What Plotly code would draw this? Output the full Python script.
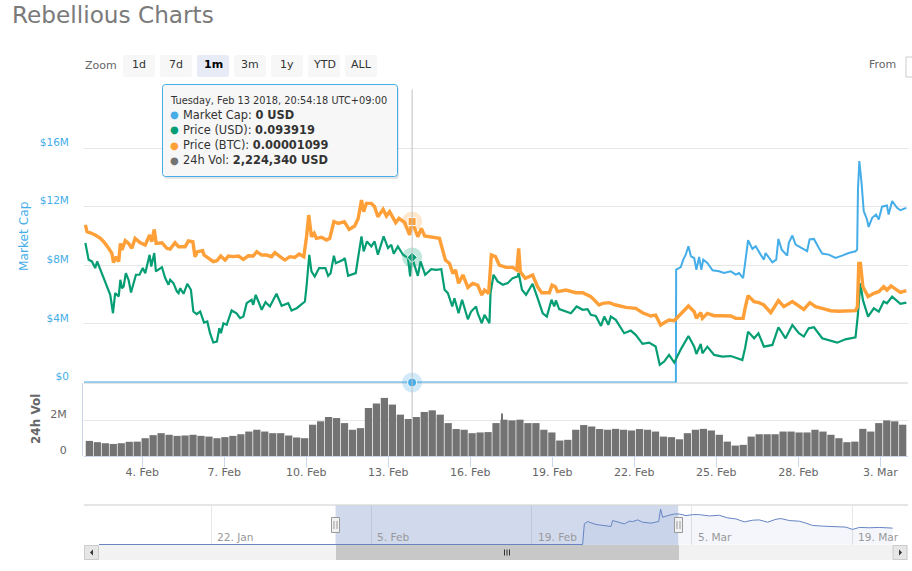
import numpy as np
import pandas as pd
import plotly.graph_objects as go

# days are counted from 31 Jan 2018, so 4.0 is midnight on 4 Feb and 29.0 is 1 Mar
BASE = pd.Timestamp("2018-01-31")

usd_days = [1.92, 2.04, 2.16, 2.28, 2.35, 2.47, 2.59, 2.71, 2.83, 2.93, 3.01, 3.14, 3.20, 3.26, 3.32, 3.40, 3.50, 3.59,
            3.68, 3.77, 3.90, 4.02, 4.11, 4.27, 4.33, 4.44, 4.50, 4.72, 4.84, 4.96, 5.02, 5.14, 5.27, 5.33, 5.39, 5.51,
            5.65, 5.78, 5.87, 5.99, 6.12, 6.26, 6.38, 6.48, 6.60, 6.73, 6.82, 6.88, 6.97, 7.09, 7.27, 7.45, 7.58, 7.70,
            7.82, 8.00, 8.06, 8.15, 8.25, 8.37, 8.51, 8.67, 8.91, 9.10, 9.34, 9.46, 9.65, 9.95, 10.01, 10.11, 10.19,
            10.31, 10.47, 10.70, 10.80, 10.89, 11.01, 11.08, 11.35, 11.41, 11.53, 11.65, 11.81, 11.90, 12.02, 12.10,
            12.22, 12.38, 12.50, 12.62, 12.83, 12.99, 13.11, 13.20, 13.35, 13.54, 13.72, 13.80, 13.87, 14.08, 14.18,
            14.35, 14.57, 14.75, 14.94, 15.06, 15.18, 15.34, 15.42, 15.57, 15.70, 15.91, 16.03, 16.21, 16.27, 16.42,
            16.52, 16.70, 16.74, 16.85, 17.00, 17.19, 17.37, 17.55, 17.73, 17.77, 17.89, 18.04, 18.28, 18.44, 18.65,
            18.80, 18.97, 19.07, 19.13, 19.25, 19.50, 19.68, 19.89, 20.11, 20.29, 20.41, 20.59, 20.78, 20.90, 21.05,
            21.14, 21.32, 21.63, 21.87, 22.05, 22.30, 22.54, 22.78, 22.93, 23.09, 23.27, 23.46, 23.70, 23.98, 24.19,
            24.27, 24.43, 24.49, 24.67, 24.92, 25.22, 25.53, 25.95, 26.05, 26.16, 26.38, 26.54, 26.74, 27.05, 27.27,
            27.53, 27.78, 28.02, 28.20, 28.38, 28.57, 28.87, 29.18, 29.42, 29.72, 30.09, 30.17, 30.27, 30.36, 30.55,
            30.76, 30.94, 31.12, 31.24, 31.43, 31.61, 31.73, 31.95]
# US cents
usd_cents = [10.47, 9.21, 9.09, 8.59, 9.09, 8.46, 7.84, 7.34, 6.58, 5.20, 6.71, 6.46, 7.71, 7.08, 7.21, 8.21, 7.71, 6.76,
             7.46, 8.09, 8.09, 8.59, 8.21, 9.59, 8.71, 9.72, 8.34, 8.66, 7.84, 7.34, 7.71, 7.46, 6.83, 6.71, 7.08, 6.66,
             7.41, 6.96, 5.33, 5.13, 5.33, 4.50, 4.58, 3.70, 3.00, 3.07, 4.08, 3.70, 4.45, 4.33, 5.41, 5.20, 4.83, 4.95,
             5.96, 6.21, 5.83, 6.58, 6.08, 5.46, 6.03, 5.71, 6.66, 5.76, 5.96, 5.41, 5.58, 6.08, 7.21, 9.59, 8.34,
             7.96, 8.59, 8.59, 8.01, 8.21, 9.52, 8.96, 9.21, 9.34, 8.01, 8.09, 8.21, 9.42, 10.97, 9.84,
             10.59, 10.22, 10.59, 9.59, 10.97, 10.09, 10.34, 9.67, 10.22, 9.59, 9.34, 7.96, 9.39, 8.01, 9.09,
             8.09, 8.51, 8.46, 8.51, 6.96, 6.71, 5.71, 6.33, 5.20, 6.21, 4.75, 5.33, 5.71, 5.20, 4.45,
             5.08, 4.45, 6.71, 8.09, 7.59, 7.34, 7.46, 7.84, 7.96, 8.21, 6.96, 6.58, 7.41, 6.46, 5.20,
             4.95, 6.21, 5.71, 6.16, 5.51, 5.33, 5.20, 5.71, 5.46, 5.51, 5.08, 5.00, 4.25, 4.95, 4.33,
             4.95, 4.70, 3.70, 3.90, 3.58, 2.90, 3.00, 2.70, 1.32, 1.57, 2.07, 1.49, 2.49, 3.49, 2.69,
             2.14, 2.89, 2.19, 2.69, 2.07, 1.94, 1.99, 1.69, 2.57, 3.82, 3.32, 3.70, 2.69, 2.82, 4.15,
             3.32, 4.32, 3.70, 3.45, 4.07, 4.15, 3.32, 3.14, 2.99, 3.24, 3.39, 4.95, 7.46, 6.20, 4.95,
             5.57, 5.32, 6.08, 5.95, 6.45, 6.08, 5.90, 6.00]

btc_days = [1.92, 1.98, 2.10, 2.28, 2.47, 2.59, 2.77, 2.89, 2.95, 3.05, 3.14, 3.20, 3.26, 3.38, 3.50, 3.62, 3.74, 3.93,
            4.11, 4.27, 4.35, 4.44, 4.51, 4.72, 4.90, 5.02, 5.20, 5.33, 5.57, 5.69, 5.85, 5.93, 6.02, 6.21, 6.26, 6.42,
            6.60, 6.73, 6.87, 7.03, 7.15, 7.33, 7.52, 7.70, 7.88, 8.06, 8.19, 8.37, 8.55, 8.73, 8.85, 9.04, 9.22, 9.40,
            9.58, 9.74, 9.91, 10.01, 10.09, 10.19, 10.29, 10.37, 10.56, 10.74, 10.86, 11.01, 11.17, 11.39, 11.57, 11.77,
            11.90, 12.02, 12.10, 12.20, 12.38, 12.50, 12.62, 12.81, 12.93, 13.05, 13.27, 13.39, 13.60, 13.78, 13.87,
            14.08, 14.21, 14.33, 14.57, 14.87, 15.09, 15.24, 15.36, 15.46, 15.57, 15.73, 15.91, 16.09, 16.27, 16.42,
            16.52, 16.67, 16.77, 16.92, 17.06, 17.31, 17.55, 17.70, 17.77, 17.83, 18.01, 18.28, 18.46, 18.61, 18.89,
            18.99, 19.11, 19.19, 19.50, 19.86, 20.11, 20.41, 20.71, 20.84, 21.08, 21.32, 21.69, 22.05, 22.30, 22.60,
            22.78, 22.96, 23.15, 23.27, 23.46, 23.70, 23.98, 24.19, 24.27, 24.43, 24.49, 24.67, 24.92, 25.22, 25.53,
            25.71, 25.98, 26.05, 26.16, 26.38, 26.56, 26.74, 26.99, 27.27, 27.47, 27.78, 28.02, 28.20, 28.42, 28.63,
            28.87, 29.18, 29.48, 30.09, 30.16, 30.21, 30.27, 30.36, 30.55, 30.76, 30.94, 31.12, 31.24, 31.39, 31.61,
            31.73, 31.95]
# millionths of a bitcoin
btc_micro = [10.75, 10.29, 10.22, 10.07, 9.84, 9.61, 9.16, 8.81, 8.18, 8.59, 8.25, 9.50, 9.04, 9.68, 9.50, 9.16, 9.84, 9.54,
             9.38, 10.07, 9.61, 10.45, 9.50, 9.54, 9.16, 9.11, 9.54, 9.27, 9.27, 9.66, 9.61, 8.59, 8.93, 9.00, 8.70, 8.47,
             8.25, 8.31, 8.63, 8.36, 8.63, 8.59, 8.63, 8.40, 8.65, 8.63, 8.93, 8.70, 8.70, 8.59, 8.86, 8.59, 8.36, 8.59,
             8.54, 8.77, 8.59, 9.95, 11.43, 9.95, 10.18, 9.84, 9.91, 9.72, 9.84, 10.98, 10.86, 10.98, 10.45, 10.68,
             11.20, 12.45, 11.66, 12.23, 12.23, 12.00, 11.32, 11.82, 11.36, 11.66, 10.91, 11.20, 10.91, 10.07, 10.99,
             9.95, 10.52, 10.00, 9.91, 9.84, 8.36, 8.13, 7.45, 7.68, 6.77, 7.34, 6.49, 6.77, 6.65, 5.97,
             6.31, 6.08, 8.70, 8.59, 8.02, 7.86, 7.86, 7.68, 9.16, 7.56, 7.11, 7.34, 6.54, 6.13, 6.13,
             6.65, 6.54, 6.20, 6.31, 6.13, 6.13, 5.86, 5.29, 5.40, 5.45, 5.29, 5.13, 5.06, 4.76, 4.54,
             4.60, 3.92, 4.15, 4.26, 4.22, 4.72, 5.22, 4.83, 4.38, 4.77, 4.38, 4.72, 4.56, 4.56, 4.54,
             4.38, 4.38, 5.06, 5.93, 5.52, 5.45, 5.29, 4.77, 5.59, 5.18, 5.52, 5.18, 4.99, 5.45, 5.18,
             5.06, 4.90, 4.86, 4.90, 5.18, 8.13, 8.13, 6.54, 5.86, 6.09, 6.20, 6.54, 6.31, 6.59, 6.31,
             6.15, 6.27]

cap_days = [1.87, 23.52, 23.53, 23.70, 23.79, 23.88, 23.98, 24.07, 24.19, 24.27, 24.37, 24.45, 24.52, 24.67, 24.86, 25.10,
            25.28, 25.53, 25.71, 25.83, 25.98, 26.05, 26.16, 26.32, 26.44, 26.62, 26.74, 26.80, 26.92, 27.05, 27.19, 27.27,
            27.39, 27.59, 27.65, 27.78, 27.90, 28.14, 28.32, 28.41, 28.57, 28.75, 28.87, 29.11, 29.36, 29.60, 29.84, 30.09,
            30.15, 30.18, 30.23, 30.31, 30.39, 30.51, 30.57, 30.70, 30.84, 30.94, 31.06, 31.24, 31.30, 31.43, 31.61, 31.73,
            31.95]
# millions of USD
cap_musd = [0, 0, 7.70, 7.88, 8.39, 8.73, 9.30, 8.61, 8.50, 7.70, 8.57, 7.70, 8.39, 8.16, 7.66, 7.59,
            7.47, 7.59, 7.36, 7.47, 7.13, 8.16, 9.71, 9.12, 9.30, 8.73, 8.39, 8.84, 8.50, 8.20, 8.39, 9.80,
            9.07, 8.66, 9.53, 10.03, 9.41, 9.12, 8.96, 9.76, 9.80, 9.18, 8.80, 8.73, 8.50, 8.66, 8.84, 8.96,
            9.07, 13.18, 15.12, 13.64, 11.70, 11.13, 10.62, 11.24, 11.47, 11.13, 12.00, 12.08, 11.47, 12.38, 11.92, 11.76,
            11.92]

# one bar every 7 hours
vol_start = "2018-02-02 01:35"
vol_musd = [0.84, 0.77, 0.71, 0.67, 0.71, 0.79, 0.80, 0.99, 1.16, 1.27, 1.18, 1.12, 1.14, 1.18, 1.12, 1.08, 0.99, 1.05,
            1.12, 1.21, 1.36, 1.46, 1.36, 1.27, 1.27, 1.14, 1.03, 0.99, 1.74, 1.93, 2.17, 2.11, 1.83, 1.46, 1.55, 2.67,
            2.92, 3.23, 2.86, 2.30, 2.06, 2.17, 2.45, 2.54, 2.30, 1.83, 1.50, 1.46, 1.27, 1.31, 1.33, 1.83, 2.02, 1.98,
            2.02, 1.83, 1.83, 1.46, 1.31, 0.86, 0.90, 1.46, 1.72, 1.64, 1.50, 1.46, 1.51, 1.46, 1.42, 1.50, 1.46, 1.36,
            1.08, 1.05, 0.93, 1.27, 1.46, 1.51, 1.42, 1.18, 0.80, 0.58, 0.62, 1.08, 1.21, 1.21, 1.21, 1.36, 1.36, 1.31,
            1.31, 1.46, 1.36, 1.18, 0.99, 0.77, 0.80, 1.51, 1.36, 1.83, 1.98, 1.93, 1.74]
vol_spike_day = 17.17
vol_spike_musd = 2.36

nav_days = [-18.79, 23.45, 23.60, 23.89, 24.62, 25.20, 25.93, 26.07, 26.65, 27.09, 27.53, 27.82, 28.26, 28.69, 29.42,
            30.09, 30.26, 30.44, 30.88, 31.46, 31.89, 32.48, 33.06, 33.64, 34.51, 35.39, 36.12, 36.84, 37.57, 38.30,
            38.88, 39.61, 40.34, 40.77, 41.50, 42.38, 42.96, 43.54, 44.41, 45.29, 46.45, 47.03, 47.62, 48.49, 49.36,
            50.53]
nav_musd = [0, 0, 8.75, 9.72, 8.47, 8.06, 7.64, 10.14, 9.44, 8.75, 9.86, 9.72, 10.42, 9.44, 9.03,
            9.72, 15.00, 11.53, 12.22, 12.92, 12.92, 12.22, 12.64, 12.64, 12.08, 12.36, 11.25, 10.83, 9.58, 10.28,
            10.42, 9.44, 10.69, 10.97, 10.14, 9.86, 9.03, 8.06, 7.78, 7.64, 7.36, 6.39, 7.22, 7.08, 7.22, 6.94]

hover_time = "2018-02-13 20:54:18"
hover_cap = 0
hover_usd_cents = 9.3919
hover_btc_micro = 10.99

main_ticks = ["2018-02-04", "2018-02-07", "2018-02-10", "2018-02-13", "2018-02-16",
              "2018-02-19", "2018-02-22", "2018-02-25", "2018-02-28", "2018-03-03"]
main_labels = ["4. Feb", "7. Feb", "10. Feb", "13. Feb", "16. Feb",
               "19. Feb", "22. Feb", "25. Feb", "28. Feb", "3. Mar"]
nav_ticks = ["2018-01-22", "2018-02-05", "2018-02-19", "2018-03-05", "2018-03-19"]
nav_labels = ["22. Jan", "5. Feb", "19. Feb", "5. Mar", "19. Mar"]
zoom_labels = ["1d", "7d", "1m", "3m", "1y", "YTD", "ALL"]
zoom_selected = "1m"

W, H = 912, 571
FONT = "DejaVu Sans"
BLUE, GREEN, ORANGE, GRAY = "#45ADE8", "#059E74", "#FF9F38", "#737373"
NAV_BLUE = "#6685C2"


def to_time(days):
    return BASE + pd.to_timedelta(np.array(days), unit="D")


def px(x):
    return x / W


def py(y):
    return 1 - y / H


def rounded(x0, y0, x1, y1, r):
    # rounded box as an svg path, given in page pixels
    pts = [("M", x0 + r, y0), ("L", x1 - r, y0), ("Q", x1, y0, x1, y0 + r), ("L", x1, y1 - r),
           ("Q", x1, y1, x1 - r, y1), ("L", x0 + r, y1), ("Q", x0, y1, x0, y1 - r), ("L", x0, y0 + r),
           ("Q", x0, y0, x0 + r, y0)]
    out = ""
    for p in pts:
        out += p[0]
        for i in range(1, len(p), 2):
            out += f"{px(p[i]):.5f},{py(p[i + 1]):.5f} "
    return out + "Z"


def box(x0, y0, x1, y1, fill, line=None, width=1):
    return dict(type="rect", xref="paper", yref="paper", x0=px(x0), x1=px(x1), y0=py(y0), y1=py(y1),
                fillcolor=fill, line=dict(color=line or fill, width=width if line else 0))


def seg(x0, y0, x1, y1, color, width=1):
    return dict(type="line", xref="paper", yref="paper", x0=px(x0), x1=px(x1), y0=py(y0), y1=py(y1),
                line=dict(color=color, width=width))


def tri(points, color):
    path = "M" + " L".join(f"{px(a):.5f},{py(b):.5f}" for a, b in points) + " Z"
    return dict(type="path", xref="paper", yref="paper", path=path, fillcolor=color, line=dict(width=0))


def label(x, y, text, size=11, color="#666666", anchor="left", **kw):
    return dict(xref="paper", yref="paper", x=px(x), y=py(y), text=text, showarrow=False, xanchor=anchor,
                yanchor="middle", align="left", font=dict(family=FONT, size=size, color=color), **kw)


fig = go.Figure()

# main lines
fig.add_trace(go.Scatter(x=to_time(cap_days), y=cap_musd, yaxis="y", mode="lines", name="Market Cap",
                         line=dict(color=BLUE, width=2)))
fig.add_trace(go.Scatter(x=to_time(usd_days), y=usd_cents, yaxis="y2", mode="lines", name="Price (USD)",
                         line=dict(color=GREEN, width=2.2)))
fig.add_trace(go.Scatter(x=to_time(btc_days), y=btc_micro, yaxis="y3", mode="lines", name="Price (BTC)",
                         line=dict(color=ORANGE, width=3.4)))

# hover points with their halos
for val, axis, color, halo, symbol, size in [
    (hover_cap, "y", BLUE, "rgba(69,173,232,0.25)", "circle", 9),
    (hover_usd_cents, "y2", GREEN, "rgba(5,158,116,0.25)", "diamond", 8),
    (hover_btc_micro, "y3", ORANGE, "rgba(255,159,56,0.25)", "square", 8),
]:
    fig.add_trace(go.Scatter(x=[pd.Timestamp(hover_time)], y=[val], yaxis=axis, mode="markers", cliponaxis=False,
                             marker=dict(size=20, color=halo, line=dict(width=0))))
    fig.add_trace(go.Scatter(x=[pd.Timestamp(hover_time)], y=[val], yaxis=axis, mode="markers", cliponaxis=False,
                             marker=dict(size=size, color=color, symbol=symbol, line=dict(width=1, color="white"))))

# volume
vol_times = pd.date_range(vol_start, periods=len(vol_musd), freq="7h")
fig.add_trace(go.Bar(x=vol_times, y=vol_musd, yaxis="y4", name="24h Vol", marker=dict(color=GRAY, line=dict(width=0)),
                     width=7 * 3600e3 * 0.91))
fig.add_trace(go.Bar(x=to_time([vol_spike_day]), y=[vol_spike_musd], yaxis="y4", marker=dict(color=GRAY, line=dict(width=0)),
                     width=1000 * 3600))

# navigator
fig.add_trace(go.Scatter(x=to_time(nav_days), y=nav_musd, xaxis="x2", yaxis="y5", mode="lines", fill="tozeroy",
                         fillcolor="rgba(102,133,194,0.07)", line=dict(color=NAV_BLUE, width=1)))

main_range = to_time([1.87, 32.01])
nav_range = to_time([-20.1, 51.87])

fig.update_layout(
    width=W, height=H, margin=dict(l=0, r=0, t=0, b=0, autoexpand=False), autosize=False,
    paper_bgcolor="white", plot_bgcolor="white", showlegend=False, barmode="overlay",
    font=dict(family=FONT, size=11, color="#666666"),
    title=dict(text="Rebellious Charts", x=px(12), y=py(15), xanchor="left", yanchor="middle",
               font=dict(family=FONT, size=23.2, color="#7A7A7A")),
    xaxis=dict(domain=[px(84), px(908)], range=list(main_range), anchor="y4", showgrid=False, zeroline=False,
               showline=True, linecolor="#CCD6EB", linewidth=1, ticks="outside", ticklen=10, tickcolor="#CCD6EB",
               tickvals=pd.to_datetime(main_ticks), ticktext=main_labels, tickangle=0, ticklabelstandoff=-4,
               tickfont=dict(size=11, color="#666666")),
    xaxis2=dict(domain=[px(84), px(908)], range=list(nav_range), anchor="y5", showgrid=True, gridcolor="#E6E6E6",
                zeroline=False, showline=False, ticks="", tickvals=pd.to_datetime(nav_ticks),
                ticktext=nav_labels, showticklabels=False),
    yaxis=dict(domain=[py(382.5), py(89.5)], range=[0, 20], anchor="x", tickvals=[0, 4, 8, 12, 16, 20],
               ticktext=["$0", "$4M", "$8M", "$12M", "$16M", ""], tickfont=dict(size=10.5, color=BLUE),
               gridcolor="#E6E6E6", gridwidth=1, zeroline=True, zerolinecolor="#E6E6E6", zerolinewidth=2,
               ticks="outside", ticklen=12, tickcolor="rgba(0,0,0,0)", showline=False, ticklabelshift=-6),
    yaxis2=dict(overlaying="y", range=[0, 22], visible=False, anchor="x"),
    yaxis3=dict(overlaying="y", range=[0, 20], visible=False, anchor="x"),
    yaxis4=dict(domain=[py(456), py(383)], range=[0, 4.06], anchor="x", tickvals=[0, 2], ticktext=["0", "2M"],
                tickfont=dict(size=11, color="#666666"), gridcolor="#E6E6E6", zeroline=False,
                ticks="outside", ticklen=14, tickcolor="rgba(0,0,0,0)", showline=False, ticklabelshift=-6),
    yaxis5=dict(domain=[py(545), py(505.5)], range=[-0.2, 16.5], anchor="x2", visible=False),
)

shapes = []
annotations = []

# range buttons
for i, name in enumerate(zoom_labels):
    x0 = 123 + 37 * i
    on = name == zoom_selected
    shapes.append(dict(type="path", xref="paper", yref="paper", path=rounded(x0, 55, x0 + 32, 77, 2),
                       fillcolor="#E6EBF5" if on else "#F7F7F7", line=dict(width=0)))
    text = f"<b>{name}</b>" if on else name
    annotations.append(label(x0 + 16, 65, text, size=11, color="#000000" if on else "#333333", anchor="center"))
annotations.append(label(83, 66, "Zoom", size=11))
annotations.append(label(867, 65, "From", size=11))
shapes.append(box(906, 57, 916, 77, "white", "#CCCCCC"))

# volume panel left edge and crosshair
shapes.append(seg(82.5, 383, 82.5, 456, "#CCD6EB"))
shapes.append(dict(type="line", xref="x", yref="paper", x0=hover_time, x1=hover_time, y0=py(456), y1=py(89.5),
                   line=dict(color="#C0C0C0", width=1)))

# navigator frame, selection and scrollbar
shapes.append(seg(84, 505, 908, 505, "#CCCCCC", 1))
shapes.append(dict(type="rect", xref="x2", yref="paper", x0=main_range[0], x1=main_range[1] - pd.Timedelta(hours=5),
                   y0=py(545), y1=py(505.5), fillcolor="rgba(102,133,194,0.3)", line=dict(width=0)))
for hx in (335.5, 678.5):
    shapes.append(box(hx - 4, 517.5, hx + 4, 532.5, "#F2F2F2", "#999999"))
    shapes.append(seg(hx - 1.5, 521, hx - 1.5, 529, "#999999"))
    shapes.append(seg(hx + 1.5, 521, hx + 1.5, 529, "#999999"))
shapes.append(box(84, 545, 908, 560, "#F2F2F2"))
shapes.append(box(336, 545, 679, 560, "#C8C8C8"))
for gx in (504.5, 507, 509.5):
    shapes.append(seg(gx, 549.5, gx, 555.5, "#333333"))
shapes.append(box(84.5, 545.5, 98.5, 559.5, "#E6E6E6", "#CCCCCC"))
shapes.append(box(893, 545.5, 907, 559.5, "#E6E6E6", "#CCCCCC"))
shapes.append(tri([(93, 549.5), (93, 555.5), (90, 552.5)], "#333333"))
shapes.append(tri([(899, 549.5), (899, 555.5), (902, 552.5)], "#333333"))

# tooltip
shapes.append(dict(type="path", xref="paper", yref="paper", path=rounded(164, 86, 399, 179, 3),
                   fillcolor="rgba(0,0,0,0.10)", line=dict(width=0)))
shapes.append(dict(type="path", xref="paper", yref="paper", path=rounded(162.5, 84.5, 397.5, 176.5, 3),
                   fillcolor="rgb(247,247,247)", line=dict(color=BLUE, width=1)))
annotations.append(label(168, 100, "Tuesday, Feb 13 2018, 20:54:18 UTC+09:00", size=9.8, color="#333333"))
tooltip_rows = [("Market Cap:", "0 USD", BLUE), ("Price (USD):", "0.093919", GREEN),
                ("Price (BTC):", "0.00001099", ORANGE), ("24h Vol:", "2,224,340 USD", GRAY)]
for i, (head, val, color) in enumerate(tooltip_rows):
    y = 115 + 15 * i
    annotations.append(label(168, y, "●", size=10, color=color))
    annotations.append(label(181, y, f"{head} <b>{val}</b>", size=11.4, color="#333333"))

# axis titles
annotations.append(label(24, 236, "Market Cap", size=12.2, color=BLUE, anchor="center", textangle=-90))
annotations.append(label(36, 419, "<b>24h Vol</b>", size=12, color="#666666", anchor="center", textangle=-90))

# navigator labels sit just right of their gridlines
for t, name in zip(nav_ticks, nav_labels):
    annotations.append(dict(xref="x2", yref="paper", x=t, y=py(537), xshift=4, text=name, showarrow=False,
                            xanchor="left", yanchor="middle", font=dict(family=FONT, size=10.6, color="#999999")))

fig.update_layout(shapes=shapes, annotations=annotations)

# drop the browser's default body margin so the 912x571 figure fills the window
fig.write_html("out.html", config={"displayModeBar": False}, post_script="document.body.style.margin='0';")
